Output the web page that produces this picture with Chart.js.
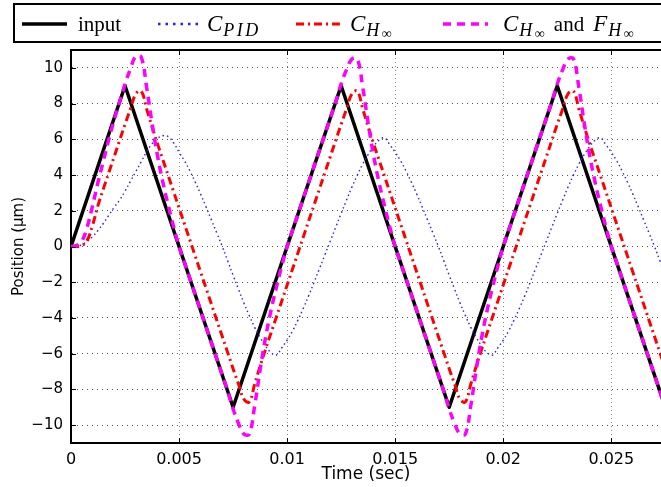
<!DOCTYPE html>
<html>
<head>
<meta charset="utf-8">
<script src="https://cdn.jsdelivr.net/npm/chart.js@4.4.0/dist/chart.umd.min.js"></script>
<style>
  html, body { margin: 0; padding: 0; background: #fff; }
  #wrap { width: 661px; height: 487px; position: relative; }
</style>
</head>
<body>
<div id="wrap"><canvas id="chart"></canvas></div>
<script>
// sample times (ms), step 0.25 ms
const timeMs = [
  0, 0.25, 0.5, 0.75, 1, 1.25, 1.5, 1.75, 2, 2.25,
  2.5, 2.75, 3, 3.25, 3.5, 3.75, 4, 4.25, 4.5, 4.75,
  5, 5.25, 5.5, 5.75, 6, 6.25, 6.5, 6.75, 7, 7.25,
  7.5, 7.75, 8, 8.25, 8.5, 8.75, 9, 9.25, 9.5, 9.75,
  10, 10.25, 10.5, 10.75, 11, 11.25, 11.5, 11.75, 12, 12.25,
  12.5, 12.75, 13, 13.25, 13.5, 13.75, 14, 14.25, 14.5, 14.75,
  15, 15.25, 15.5, 15.75, 16, 16.25, 16.5, 16.75, 17, 17.25,
  17.5, 17.75, 18, 18.25, 18.5, 18.75, 19, 19.25, 19.5, 19.75,
  20, 20.25, 20.5, 20.75, 21, 21.25, 21.5, 21.75, 22, 22.25,
  22.5, 22.75, 23, 23.25, 23.5, 23.75, 24, 24.25, 24.5, 24.75,
  25, 25.25, 25.5, 25.75, 26, 26.25, 26.5, 26.75, 27, 27.25,
  27.5
];

// reference input (triangle corners)
const inputTime = [0, 0.0025, 0.0075, 0.0125, 0.0175, 0.0225, 0.0275];
const inputPos = [0, 9, -9, 9, -9, 9, -9];

// C_PID response
const pidPos = [
  0, 0, 0.1, 0.3, 0.55, 0.9, 1.3, 1.75, 2.2, 2.6,
  3.1, 3.65, 4.2, 4.75, 5.3, 5.75, 6.05, 6.2, 6.15, 5.8,
  5.28, 4.8, 4.23, 3.6, 2.93, 2.21, 1.48, 0.74, 0, -0.8,
  -1.61, -2.39, -3.16, -3.87, -4.53, -5.09, -5.57, -5.94, -6.08, -5.67,
  -5.24, -4.73, -4.12, -3.46, -2.75, -2.0, -1.23, -0.46, 0.31, 1.08,
  1.85, 2.6, 3.33, 4.0, 4.62, 5.15, 5.6, 5.95, 6.08, 5.7,
  5.28, 4.8, 4.23, 3.6, 2.93, 2.21, 1.48, 0.74, 0, -0.8,
  -1.61, -2.39, -3.16, -3.87, -4.53, -5.09, -5.57, -5.94, -6.08, -5.67,
  -5.24, -4.73, -4.12, -3.46, -2.75, -2.0, -1.23, -0.46, 0.31, 1.08,
  1.85, 2.6, 3.33, 4.0, 4.62, 5.15, 5.6, 5.95, 6.08, 5.7,
  5.28, 4.8, 4.23, 3.6, 2.93, 2.21, 1.48, 0.74, 0, -0.8,
  -1.61
];

// C_Hinf response
const hinfPos = [
  0, 0, 0.05, 0.35, 1.2, 2.3, 3.24, 4.14, 5.04, 5.94,
  6.84, 7.7, 8.55, 8.7, 7.7, 6.7, 5.76, 4.86, 3.96, 3.06,
  2.16, 1.26, 0.36, -0.54, -1.44, -2.34, -3.24, -4.14, -5.04, -5.94,
  -6.84, -7.7, -8.55, -8.7, -7.7, -6.7, -5.76, -4.86, -3.96, -3.06,
  -2.16, -1.26, -0.36, 0.54, 1.44, 2.34, 3.24, 4.14, 5.04, 5.94,
  6.84, 7.7, 8.55, 8.7, 7.7, 6.7, 5.76, 4.86, 3.96, 3.06,
  2.16, 1.26, 0.36, -0.54, -1.44, -2.34, -3.24, -4.14, -5.04, -5.94,
  -6.84, -7.7, -8.55, -8.7, -7.7, -6.7, -5.76, -4.86, -3.96, -3.06,
  -2.16, -1.26, -0.36, 0.54, 1.44, 2.34, 3.24, 4.14, 5.04, 5.94,
  6.84, 7.7, 8.55, 8.7, 7.7, 6.7, 5.76, 4.86, 3.96, 3.06,
  2.16, 1.26, 0.36, -0.54, -1.44, -2.34, -3.24, -4.14, -5.04, -5.94,
  -6.84
];

// C_Hinf and F_Hinf response
const filtPos = [
  0, 0.05, 0.3, 1.1, 2.3, 3.6, 4.8, 6.0, 7.1, 8.1,
  9.1, 9.95, 10.65, 10.6, 8.9, 6.9, 5.1, 3.6, 2.3, 1.1,
  0, -0.9, -1.8, -2.7, -3.6, -4.5, -5.4, -6.3, -7.2, -8.1,
  -9.1, -9.9, -10.5, -10.5, -8.9, -6.9, -5.1, -3.6, -2.3, -1.1,
  0, 0.9, 1.8, 2.7, 3.6, 4.5, 5.4, 6.3, 7.2, 8.1,
  9.1, 9.9, 10.5, 10.5, 8.9, 6.9, 5.1, 3.6, 2.3, 1.1,
  0, -0.9, -1.8, -2.7, -3.6, -4.5, -5.4, -6.3, -7.2, -8.1,
  -9.1, -9.9, -10.5, -10.5, -8.9, -6.9, -5.1, -3.6, -2.3, -1.1,
  0, 0.9, 1.8, 2.7, 3.6, 4.5, 5.4, 6.3, 7.2, 8.1,
  9.1, 9.9, 10.5, 10.5, 8.9, 6.9, 5.1, 3.6, 2.3, 1.1,
  0, -0.9, -1.8, -2.7, -3.6, -4.5, -5.4, -6.3, -7.2, -8.1,
  -9.1
];

const xTicks = [0, 0.005, 0.01, 0.015, 0.02, 0.025];
const xTickLabels = ['0', '0.005', '0.01', '0.015', '0.02', '0.025'];
const yTicks = [-10, -8, -6, -4, -2, 0, 2, 4, 6, 8, 10];
const yTickLabels = ['\u221210', '\u22128', '\u22126', '\u22124', '\u22122', '0', '2', '4', '6', '8', '10'];

// legend text pieces (sub: 1 = subscript, 2 = sub-subscript)
const legendText = [
  [{ s: 'input' }],
  [{ s: 'C', it: true }, { s: 'PID', it: true, sub: 1 }],
  [{ s: 'C', it: true }, { s: 'H', it: true, sub: 1 }, { s: '\u221E', sub: 2 }],
  [{ s: 'C', it: true }, { s: 'H', it: true, sub: 1 }, { s: '\u221E', sub: 2 }, { s: 'and', pad: 9 },
   { s: 'F', it: true }, { s: 'H', it: true, sub: 1 }, { s: '\u221E', sub: 2 }]
];

const toPoints = vals => vals.map((v, i) => ({ x: timeMs[i] / 1000, y: v }));

function drawRich(ctx, parts, x, y) {
  parts.forEach(p => {
    const size = p.sub === 2 ? 14 : p.sub === 1 ? 18 : p.it ? 23 : 21;
    const dy = p.sub === 2 ? 7 : p.sub === 1 ? 5 : 0;
    const gap = p.sub === 1 ? 2.5 : p.it ? 1 : 0;
    x += p.pad || 0;
    ctx.font = (p.it ? 'italic ' : '') + size + 'px "Liberation Serif"';
    for (const ch of p.s) {
      ctx.fillText(ch, x, y + dy);
      x += ctx.measureText(ch).width + gap;
    }
    x += p.pad || 0;
  });
}

const frameAndLegend = {
  id: 'frameAndLegend',
  afterDraw(chart) {
    const ctx = chart.ctx;
    const a = chart.chartArea;
    const xs = chart.scales.x, ys = chart.scales.y;
    ctx.save();
    ctx.strokeStyle = '#000';
    ctx.setLineDash([]);
    ctx.lineWidth = 2;
    ctx.beginPath();
    ctx.moveTo(a.left, a.top);
    ctx.lineTo(a.right, a.top);
    ctx.stroke();

    // inward tick marks
    ctx.lineWidth = 1;
    ctx.beginPath();
    xTicks.forEach(v => {
      const px = Math.round(xs.getPixelForValue(v)) + 0.5;
      ctx.moveTo(px, a.bottom); ctx.lineTo(px, a.bottom - 5);
      ctx.moveTo(px, a.top); ctx.lineTo(px, a.top + 5);
    });
    yTicks.forEach(v => {
      const py = Math.round(ys.getPixelForValue(v)) + 0.5;
      ctx.moveTo(a.left, py); ctx.lineTo(a.left + 5, py);
    });
    ctx.stroke();

    // legend box
    ctx.fillStyle = '#fff';
    ctx.fillRect(14, 4, 660, 38);
    ctx.lineWidth = 2;
    ctx.strokeRect(14, 4, 660, 38);

    const sampleX = [22, 158, 296, 443];
    const textX = [78, 207, 350, 503];
    chart.data.datasets.forEach((ds, i) => {
      ctx.save();
      ctx.strokeStyle = ds.borderColor;
      ctx.lineWidth = i === 1 ? 2.5 : ds.borderWidth;
      ctx.setLineDash(i === 1 ? [2.5, 5] : (ds.borderDash || []));
      ctx.beginPath();
      ctx.moveTo(sampleX[i], 24);
      ctx.lineTo(sampleX[i] + 45, 24);
      ctx.stroke();
      ctx.restore();
      ctx.fillStyle = '#000';
      ctx.textBaseline = 'alphabetic';
      drawRich(ctx, legendText[i], textX[i], 31);
    });
    ctx.restore();
  }
};

Chart.defaults.font.family = '"DejaVu Sans", sans-serif';
Chart.defaults.color = '#000';

new Chart(document.getElementById('chart'), {
  type: 'line',
  data: {
    datasets: [
      { label: 'input', data: inputTime.map((t, i) => ({ x: t, y: inputPos[i] })),
        borderColor: '#000000', borderWidth: 3.5, tension: 0, order: 3 },
      { label: 'C_PID', data: toPoints(pidPos),
        borderColor: '#2020ff', borderWidth: 1.4, borderDash: [1.5, 3], tension: 0.4, order: 2 },
      { label: 'C_Hinf', data: toPoints(hinfPos),
        borderColor: '#ff0000', borderWidth: 3, borderDash: [8, 4, 2, 4], tension: 0.4, order: 1 },
      { label: 'C_Hinf and F_Hinf', data: toPoints(filtPos),
        borderColor: '#ff00ff', borderWidth: 3.5, borderDash: [8, 6], tension: 0.4, order: 0 }
    ]
  },
  options: {
    responsive: true,
    maintainAspectRatio: false,
    animation: false,
    layout: { padding: { top: 50, left: 0, right: 0, bottom: 0 } },
    elements: { point: { radius: 0 }, line: { borderCapStyle: 'butt', borderJoinStyle: 'round' } },
    plugins: { legend: { display: false }, tooltip: { enabled: false } },
    scales: {
      x: {
        type: 'linear', min: 0, max: 0.0273,
        afterBuildTicks: s => { s.ticks = xTicks.map(v => ({ value: v })); },
        afterFit: s => { s.height = 44; },
        grid: { color: '#888', drawTicks: false },
        border: { color: '#000', width: 2, dash: [1, 3] },
        ticks: { callback: (v, i) => xTickLabels[i], font: { size: 16 }, padding: 7, maxRotation: 0, autoSkip: false },
        title: { display: true, text: 'Time (sec)', font: { size: 17 }, padding: { top: 0, bottom: 2 } }
      },
      y: {
        min: -11, max: 11,
        afterBuildTicks: s => { s.ticks = yTicks.map(v => ({ value: v })); },
        afterFit: s => { s.width = 71; },
        grid: { color: '#555', drawTicks: false },
        border: { color: '#000', width: 2, dash: [1, 4] },
        ticks: { callback: (v, i) => yTickLabels[i], font: { size: 15 }, padding: 8, autoSkip: false },
        title: { display: true, text: 'Position (\u00B5m)', font: { size: 15 }, padding: { top: 10, bottom: 0 } }
      }
    }
  },
  plugins: [frameAndLegend]
});
</script>
</body>
</html>
